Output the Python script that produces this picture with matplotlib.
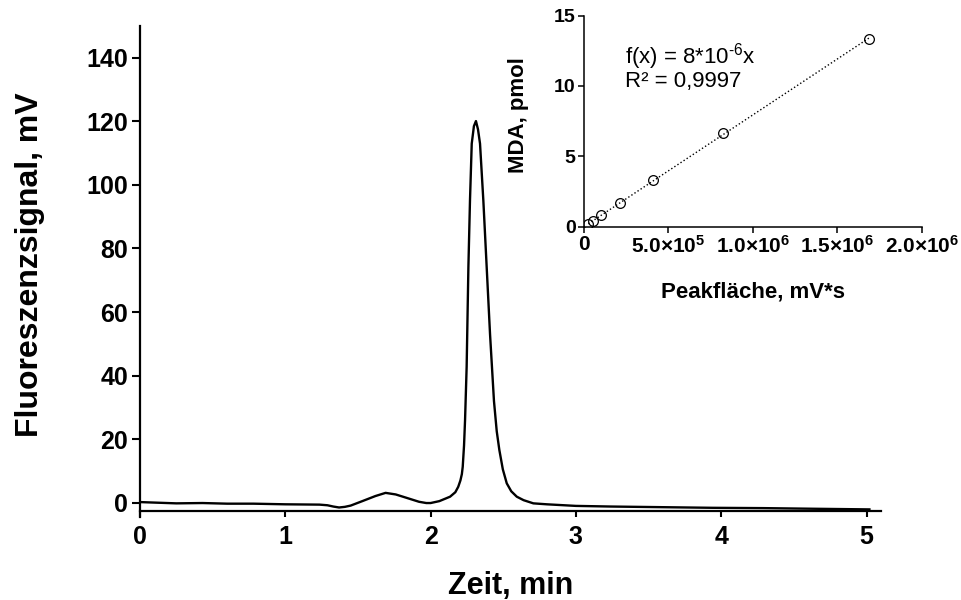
import numpy as np
import matplotlib
matplotlib.use("Agg")
import matplotlib.pyplot as plt

plt.rcParams['font.family'] = ['Liberation Sans', 'DejaVu Sans']
plt.rcParams['mathtext.fontset'] = 'custom'
plt.rcParams['mathtext.rm'] = 'Liberation Sans'
plt.rcParams['mathtext.bf'] = 'Liberation Sans:bold'
plt.rcParams['mathtext.it'] = 'Liberation Sans:italic'

# chromatogram
zeit = [0.0, 0.25, 0.43, 0.6, 0.78, 1.0, 1.235, 1.29, 1.33, 1.37, 1.41, 1.45, 1.53,
        1.62, 1.69, 1.76, 1.83, 1.92, 1.97, 2.0, 2.06, 2.134, 2.17, 2.19, 2.205,
        2.215, 2.221, 2.23, 2.237, 2.248, 2.26, 2.271, 2.283, 2.298, 2.312, 2.326,
        2.34, 2.363, 2.386, 2.409, 2.436, 2.455, 2.473, 2.497, 2.524, 2.555, 2.593,
        2.64, 2.707, 2.80, 2.88, 3.0, 3.24, 3.59, 3.94, 4.29, 4.64, 5.02]
signal = [0.2, -0.2, -0.1, -0.3, -0.3, -0.5, -0.6, -0.8, -1.2, -1.5, -1.3, -0.9, 0.5,
          2.1, 3.1, 2.6, 1.6, 0.3, -0.1, -0.1, 0.5, 1.9, 3.3, 5.0, 7.0,
          9.0, 11.3, 18.0, 26.0, 42.8, 74.2, 95.2, 113.0, 118.5, 120.1, 117.5,
          113.0, 95.0, 74.0, 53.0, 32.0, 22.5, 16.6, 10.5, 6.1, 3.6, 1.9,
          0.8, -0.2, -0.5, -0.7, -1.0, -1.2, -1.4, -1.6, -1.7, -1.9, -2.1]

# calibration (inset)
peakflaeche = [0.026e6, 0.051e6, 0.099e6, 0.213e6, 0.407e6, 0.821e6, 1.688e6]
mda = [0.21, 0.42, 0.83, 1.67, 3.33, 6.67, 13.33]

main_xticks = [0, 1, 2, 3, 4, 5]
main_yticks = [0, 20, 40, 60, 80, 100, 120, 140]
ins_xticks = [0, 5e5, 1e6, 1.5e6, 2e6]
ins_xlabels = ['0', r'$\mathbf{5.0{\times}10^{5}}$', r'$\mathbf{1.0{\times}10^{6}}$',
               r'$\mathbf{1.5{\times}10^{6}}$', r'$\mathbf{2.0{\times}10^{6}}$']
ins_yticks = [0, 5, 10, 15]

fig = plt.figure(figsize=(9.61, 6.0), dpi=100)

# main chromatogram
ax = fig.add_axes([0.1457, 0.1383, 0.7711, 0.8183])
ax.plot(zeit, signal, color='black', lw=1.7)
ax.set_xlim(0, 5.1)
ax.set_ylim(-4.5, 150)
ax.spines['top'].set_visible(False)
ax.spines['right'].set_visible(False)
ax.spines['bottom'].set_position(('data', -2.5))
for s in ['left', 'bottom']:
    ax.spines[s].set_linewidth(1.6)
ax.set_xticks(main_xticks)
ax.set_yticks(main_yticks)
ax.tick_params(axis='both', direction='out', width=1.5, labelsize=18)
ax.tick_params(axis='y', length=6, pad=2.5)
ax.tick_params(axis='x', length=4.5, pad=6)
for lab in ax.get_xticklabels() + ax.get_yticklabels():
    lab.set_fontweight('bold')
ax.set_xlabel('Zeit, min', fontsize=22, fontweight='bold')
ax.set_ylabel('Fluoreszenzsignal, mV', fontsize=23, fontweight='bold')
ax.xaxis.set_label_coords(0.5, -0.11)
ax.yaxis.set_label_coords(-0.128, 0.513)

# inset calibration
ins = fig.add_axes([0.6077, 0.6222, 0.3517, 0.3517])
px = np.array(peakflaeche)
py = np.array(mda)
slope = np.sum(px * py) / np.sum(px * px)
ins.plot([px.min(), px.max()], [slope * px.min(), slope * px.max()],
         ls=':', color='black', lw=1.0)
ins.plot(px, py, 'o', mfc='none', mec='black', mew=0.9, ms=7)
ins.set_xlim(0, 2e6)
ins.set_ylim(0, 15)
ins.spines['top'].set_visible(False)
ins.spines['right'].set_visible(False)
for s in ['left', 'bottom']:
    ins.spines[s].set_linewidth(1.1)
ins.set_xticks(ins_xticks)
ins.set_xticklabels(ins_xlabels)
ins.set_yticks(ins_yticks)
ins.tick_params(axis='both', direction='out', width=1.1, length=4, labelsize=14, pad=2)
ins.tick_params(axis='x', labelsize=15)
for lab in ins.get_xticklabels() + ins.get_yticklabels():
    lab.set_fontweight('bold')
ins.set_xlabel('Peakfläche, mV*s', fontsize=16, fontweight='bold')
ins.set_ylabel('MDA, pmol', fontsize=16, fontweight='bold')
ins.xaxis.set_label_coords(0.5, -0.26)
ins.yaxis.set_label_coords(-0.163, 0.53)
ins.text(0.121, 0.774, 'f(x) = 8*10$^{\u2010 6}$x', transform=ins.transAxes,
         fontsize=16, va='baseline', ha='left')
ins.text(0.121, 0.661, 'R² = 0,9997', transform=ins.transAxes,
         fontsize=16, va='baseline', ha='left')

fig.savefig('out.png', dpi=100)
